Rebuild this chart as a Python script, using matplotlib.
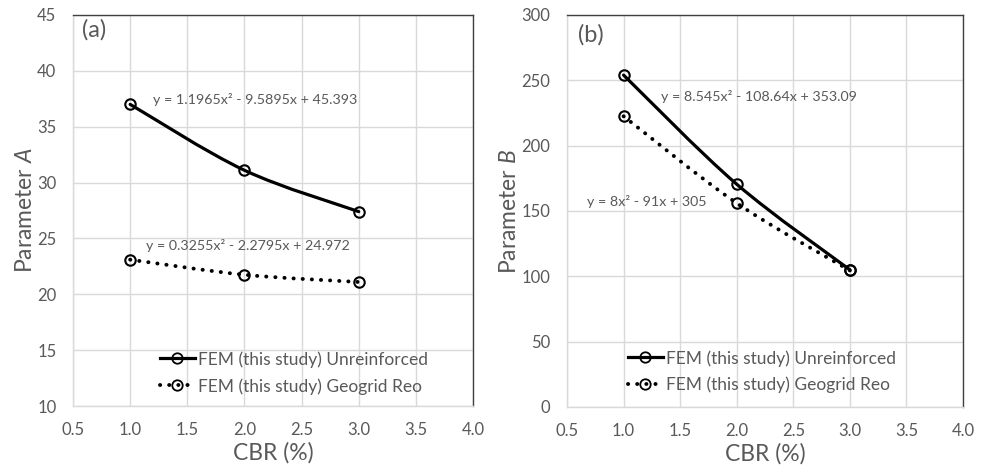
import matplotlib
matplotlib.use("Agg")
import matplotlib.pyplot as plt
import numpy as np
from matplotlib.path import Path
from matplotlib.patches import PathPatch
from matplotlib.lines import Line2D

plt.rcParams['font.family'] = ['Lato', 'DejaVu Sans']
plt.rcParams['mathtext.fontset'] = 'custom'
plt.rcParams['mathtext.rm'] = 'Lato'
plt.rcParams['mathtext.it'] = 'Lato:italic'

# ---------------- data ----------------
cbr = [1.0, 2.0, 3.0]
A_unreinforced = [37.0, 31.1, 27.4]
A_geogrid = [23.1, 21.75, 21.1]
B_unreinforced = [254.0, 170.5, 105.0]
B_geogrid = [222.5, 156.0, 104.5]

eq_A_unr = "y = 1.1965x² - 9.5895x + 45.393"
eq_A_geo = "y = 0.3255x² - 2.2795x + 24.972"
eq_B_unr = "y = 8.545x² - 108.64x + 353.09"
eq_B_geo = "y = 8x² - 91x + 305"

label_unr = "FEM (this study) Unreinforced"
label_geo = "FEM (this study) Geogrid Reo"

xticks = [0.5, 1.0, 1.5, 2.0, 2.5, 3.0, 3.5, 4.0]
A_ticks = [10, 15, 20, 25, 30, 35, 40, 45]
B_ticks = [0, 50, 100, 150, 200, 250, 300]

TXT = '#595959'
GRID = '#d9d9d9'
LW = 2.3
LW_DOT = 2.8
MS = 7.5


def smooth_path(x, y):
    """Excel-style smoothed line (Catmull-Rom as cubic Bezier) through the data points."""
    P = np.column_stack([x, y]).astype(float)
    n = len(P)
    verts = [P[0]]
    codes = [Path.MOVETO]
    for i in range(n - 1):
        p_prev = P[i - 1] if i > 0 else P[i]
        p_next2 = P[i + 2] if i + 2 < n else P[i + 1]
        c1 = P[i] + (P[i + 1] - p_prev) / 6.0
        c2 = P[i + 1] - (p_next2 - P[i]) / 6.0
        verts += [c1, c2, P[i + 1]]
        codes += [Path.CURVE4] * 3
    return Path(verts, codes)


dotted = (0, (0.05, 2.3))


def draw_series(ax, x, y, style):
    if style == 'solid':
        patch = PathPatch(smooth_path(x, y), fill=False, edgecolor='black', lw=LW,
                          capstyle='round', zorder=3)
    else:
        patch = PathPatch(smooth_path(x, y), fill=False, edgecolor='black', lw=LW_DOT,
                          linestyle=dotted, capstyle='round', zorder=3)
    ax.add_patch(patch)
    ax.plot(x, y, linestyle='none', marker='o', ms=MS, mfc='none', mec='black',
            mew=1.5, zorder=4)


def style_axes(ax, yticks):
    ax.set_xlim(0.5, 4.0)
    ax.set_ylim(yticks[0], yticks[-1])
    ax.set_xticks(xticks)
    ax.set_xticklabels([f"{t:.1f}" for t in xticks])
    ax.set_yticks(yticks)
    ax.grid(True, color=GRID, lw=1.0, zorder=0)
    ax.set_axisbelow(True)
    ax.tick_params(length=0, labelsize=12, labelcolor=TXT)
    ax.tick_params(axis='y', pad=12)
    ax.tick_params(axis='x', pad=11.5)
    for s in ['left', 'bottom']:
        ax.spines[s].set_color(GRID)
        ax.spines[s].set_linewidth(1.0)
    for s in ['top', 'right']:
        ax.spines[s].set_color('#404040')
        ax.spines[s].set_linewidth(1.0)
    ax.set_xlabel("CBR (%)", fontsize=16.5, color=TXT, labelpad=3)


def legend(ax, anchor):
    h1 = Line2D([], [], color='black', lw=LW, marker='o', ms=MS, mfc='none', mec='black', mew=1.3)
    h2 = Line2D([], [], color='black', lw=LW_DOT, ls=dotted, dash_capstyle='round', marker='o',
                ms=MS, mfc='none', mec='black', mew=1.3)
    leg = ax.legend([h1, h2], [label_unr, label_geo], loc='center left', bbox_to_anchor=anchor,
                    frameon=False, fontsize=12.5, handlelength=2.0, handletextpad=0.2,
                    labelspacing=0.6, borderpad=0, borderaxespad=0)
    for t in leg.get_texts():
        t.set_color(TXT)


fig = plt.figure(figsize=(9.88, 4.67), dpi=100)
ax1 = fig.add_axes([0.0739, 0.1306, 0.4049, 0.8373])
ax2 = fig.add_axes([0.5739, 0.1285, 0.4008, 0.8394])

# Panel (a)
style_axes(ax1, A_ticks)
draw_series(ax1, cbr, A_unreinforced, 'solid')
draw_series(ax1, cbr, A_geogrid, 'dotted')
ax1.set_ylabel("Parameter $\\it{A}$", fontsize=16.5, color=TXT, labelpad=1)
ax1.text(0.022, 0.962, "(a)", transform=ax1.transAxes, fontsize=17, color=TXT,
         ha='left', va='center')
ax1.text(1.2, 37.4, eq_A_unr, fontsize=10.3, color=TXT, ha='left', va='center')
ax1.text(1.14, 24.35, eq_A_geo, fontsize=10.3, color=TXT, ha='left', va='center')
legend(ax1, (0.2175, 0.085))

# Panel (b)
style_axes(ax2, B_ticks)
draw_series(ax2, cbr, B_unreinforced, 'solid')
draw_series(ax2, cbr, B_geogrid, 'dotted')
ax2.set_ylabel("Parameter $\\it{B}$", fontsize=16.5, color=TXT, labelpad=1)
ax2.text(0.028, 0.949, "(b)", transform=ax2.transAxes, fontsize=17, color=TXT,
         ha='left', va='center')
ax2.text(1.33, 237.5, eq_B_unr, fontsize=10.3, color=TXT, ha='left', va='center')
ax2.text(0.674, 157.2, eq_B_geo, fontsize=10.3, color=TXT, ha='left', va='center')
legend(ax2, (0.154, 0.09))

fig.savefig("out.png", dpi=100)
